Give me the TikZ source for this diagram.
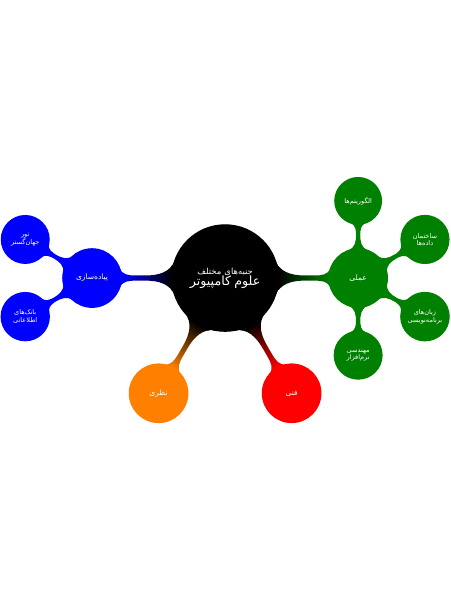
\documentclass[tikz,border=0pt]{standalone}
\usepackage{fontspec}
\newfontfamily\farsi[Script=Arabic]{DejaVu Sans}
\TeXXeTstate=1
\usetikzlibrary{mindmap}
\pgfdeclarelayer{background}
\pgfsetlayers{background,main}
\newcommand{\fa}[1]{\beginR#1\endR}

\begin{document}
\begin{tikzpicture}[mindmap, text=white,
  rootc/.style={concept, minimum size=4cm, text width=3.5cm, align=center, font=\farsi},
  midc/.style={concept, minimum size=2.2cm, text width=2cm, align=center, font=\farsi\footnotesize},
  leafc/.style={concept, minimum size=1.75cm, text width=1.65cm, align=center, font=\farsi\scriptsize}]
\useasboundingbox (-8.46,-12.1) rectangle (8.46,10.45);
\node[rootc, concept color=black] (cs) at (0,0) {{\small\fa{جنبه‌های مختلف}}\\{\fontsize{13.5}{16}\selectfont\fa{علوم کامپیوتر}}};
\node[midc, concept color=green!50!black] (prac) at (0:5) {\fa{عملی}};
\node[midc, concept color=red] (tech) at (-60:5) {\fa{فنی}};
\node[midc, concept color=orange] (theo) at (-120:5) {\fa{نظری}};
\node[midc, concept color=blue] (appl) at (180:5) {\fa{پیاده‌سازی}};
% practical
\node[leafc, concept color=green!50!black] (algo) at ([shift={(90:2.9)}]prac) {\fa{الگوریتم‌ها}};
\node[leafc, concept color=green!50!black] (ds) at ([shift={(30:2.9)}]prac) {\fa{ساختمان}\\\fa{داده‌ها}};
\node[leafc, concept color=green!50!black] (pl) at ([shift={(-30:2.9)}]prac) {\fa{زبان‌های}\\\fa{برنامه‌نویسی}};
\node[leafc, concept color=green!50!black] (se) at ([shift={(-90:2.9)}]prac) {\fa{مهندسی}\\\fa{نرم‌افزار}};
% applied
\node[leafc, concept color=blue] (www) at ([shift={(150:2.9)}]appl) {\fa{تور}\\\fa{جهان‌گستر}};
\node[leafc, concept color=blue] (db) at ([shift={(210:2.9)}]appl) {\fa{بانک‌های}\\\fa{اطلاعاتی}};
\begin{pgfonlayer}{background}
\path (cs) to[circle connection bar switch color=from (black) to (green!50!black)] (prac);
\path (cs) to[circle connection bar switch color=from (black) to (red)] (tech);
\path (cs) to[circle connection bar switch color=from (black) to (orange)] (theo);
\path (cs) to[circle connection bar switch color=from (black) to (blue)] (appl);
\foreach \c in {algo,ds,pl,se}
  \path (prac) to[circle connection bar switch color=from (green!50!black) to (green!50!black)] (\c);
\foreach \c in {www,db}
  \path (appl) to[circle connection bar switch color=from (blue) to (blue)] (\c);
\end{pgfonlayer}
\end{tikzpicture}
\end{document}
